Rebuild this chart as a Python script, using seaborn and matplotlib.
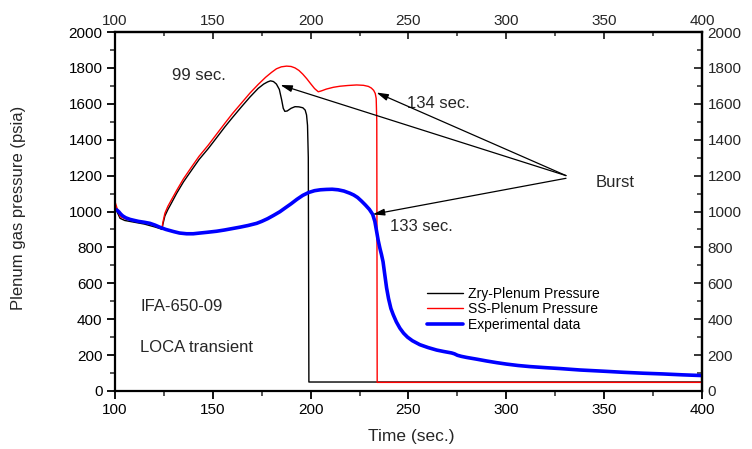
import matplotlib
matplotlib.use("Agg")
import matplotlib.pyplot as plt
import seaborn as sns
import pandas as pd
from matplotlib.ticker import FixedLocator

# ---- data ----
zry_t = [100, 101, 102.6, 105, 110, 115, 120, 123, 124, 124.5, 125.5, 127, 129,
         131.5, 135, 139.2, 143, 147.7, 152, 156.2, 160, 164.7, 169, 173.2, 176,
         178, 179.5, 181, 182.5, 184, 185.2, 186, 186.8, 188, 190, 192, 194, 196,
         197.2, 197.9, 198.4, 198.8, 199.1, 400]
zry_p = [1040, 1000, 962, 950, 940, 930, 915, 905, 900, 930, 975, 1010, 1050,
         1101, 1165, 1231, 1290, 1351, 1412, 1472, 1523, 1584, 1638, 1686, 1710,
         1722, 1728, 1724, 1710, 1680, 1621, 1575, 1558, 1560, 1575, 1584, 1583, 1578,
         1565, 1538, 1480, 1300, 50, 50]

ss_t = [100, 101, 102.6, 105, 110, 115, 120, 123, 124, 124.5, 125.5, 127, 129,
        131.5, 135, 139.2, 143, 147.7, 152, 156.2, 160, 164.7, 169, 173.2, 177,
        180, 182.5, 185, 187.7, 190, 192, 194, 196, 198, 200, 202, 203.9, 205.5,
        208, 211.6, 215, 219, 223.5, 227, 229.5, 231, 232.2, 233, 233.5, 233.8,
        234, 400]
ss_p = [1055, 1020, 972, 960, 950, 940, 925, 912, 905, 940, 990, 1028, 1068,
        1117, 1182, 1249, 1308, 1370, 1432, 1492, 1545, 1605, 1660, 1708, 1748,
        1775, 1795, 1806, 1810, 1808, 1800, 1786, 1765, 1740, 1712, 1685, 1667, 1672,
        1682, 1692, 1698, 1702, 1705, 1703, 1697, 1688, 1675, 1658, 1630, 1500,
        48, 48]

exp_t = [100, 101, 102, 103, 104, 105.5, 107.7, 110, 112, 115, 117.9, 120.5, 123,
         126, 130, 133, 136.6, 140, 143.4, 147, 151.9, 156, 160, 164, 168, 172.4,
         175, 178, 181, 184.3, 187, 190, 193, 196, 199, 202, 205, 208, 211, 214,
         217, 220, 222, 224, 226, 228, 230, 231.7, 232.8, 233.7, 234.5, 235.4,
         236.2, 237, 237.8, 238.8, 239.8, 241, 242.2, 243.8, 245.6, 247.5, 249.5,
         252, 255.8, 260, 264.4, 268, 272, 273.5, 275, 277, 279.7, 285, 290, 295,
         300, 306, 312, 320, 327.4, 337.6, 350, 360, 370, 380, 390, 400]
exp_p = [1010, 1008, 998, 985, 975, 965, 956, 950, 945, 940, 934, 924, 912,
         900, 888, 880, 876, 876, 880, 884, 890, 897, 905, 913, 922, 934,
         945, 960, 978, 999, 1020, 1043, 1068, 1090, 1106, 1116, 1121, 1123, 1124, 1121,
         1114, 1102, 1092, 1078, 1058, 1036, 1012, 984, 945, 890, 840, 795,
         760, 720, 655, 575, 515, 460, 425, 385, 350, 322, 300,
         280, 258, 242, 228, 220, 212, 207, 199, 193, 187, 177, 167, 158,
         150, 142, 136, 130, 125, 117, 110, 104, 99, 95, 90, 86]

series_labels = ["Zry-Plenum Pressure", "SS-Plenum Pressure", "Experimental data"]

x_major = [100, 150, 200, 250, 300, 350, 400]
x_minor = [125, 175, 225, 275, 325, 375]
y_major = [0, 200, 400, 600, 800, 1000, 1200, 1400, 1600, 1800, 2000]
y_minor = [100, 300, 500, 700, 900, 1100, 1300, 1500, 1700, 1900]

# ---- figure ----
sns.set_style("white")
plt.rcParams["font.family"] = ["Liberation Sans", "DejaVu Sans"]

fig = plt.figure(figsize=(7.52, 4.49), dpi=100)
ax = fig.add_axes([0.1529, 0.1292, 0.9335 - 0.1529, 0.9287 - 0.1292])

df_z = pd.DataFrame({"t": zry_t, "p": zry_p})
df_s = pd.DataFrame({"t": ss_t, "p": ss_p})
df_e = pd.DataFrame({"t": exp_t, "p": exp_p})

sns.lineplot(data=df_z, x="t", y="p", ax=ax, color="black", lw=1.0,
             sort=False, estimator=None, label=series_labels[0])
sns.lineplot(data=df_s, x="t", y="p", ax=ax, color="#ff0000", lw=1.0,
             sort=False, estimator=None, label=series_labels[1])
sns.lineplot(data=df_e, x="t", y="p", ax=ax, color="#0000ff", lw=2.6,
             sort=False, estimator=None, label=series_labels[2])

ax.set_xlim(100, 400)
ax.set_ylim(0, 2000)
ax.xaxis.set_major_locator(FixedLocator(x_major))
ax.xaxis.set_minor_locator(FixedLocator(x_minor))
ax.yaxis.set_major_locator(FixedLocator(y_major))
ax.yaxis.set_minor_locator(FixedLocator(y_minor))

for s in ax.spines.values():
    s.set_linewidth(1.6)
    s.set_color("black")

tick_fs = 11
ax.tick_params(which="major", direction="out", length=6, width=1.3,
               labelsize=tick_fs, colors="black", pad=3)
ax.tick_params(which="minor", direction="out", length=3.5, width=1.1)
ax.tick_params(left=True, bottom=True, which="both")

secx = ax.secondary_xaxis("top")
secx.xaxis.set_major_locator(FixedLocator(x_major))
secx.xaxis.set_minor_locator(FixedLocator(x_minor))
secx.tick_params(which="major", direction="in", length=5, width=1.3,
                 labelsize=tick_fs, pad=3)
secx.tick_params(which="minor", direction="in", length=3, width=1.1)
secx.spines["top"].set_linewidth(1.6)

secy = ax.secondary_yaxis("right")
secy.yaxis.set_major_locator(FixedLocator(y_major))
secy.yaxis.set_minor_locator(FixedLocator(y_minor))
secy.tick_params(which="major", direction="in", length=6, width=1.3,
                 labelsize=tick_fs, pad=4)
secy.tick_params(which="minor", direction="in", length=3.5, width=1.1)
secy.spines["right"].set_linewidth(1.6)

ax.set_xlabel("Time (sec.)", fontsize=12.5)
ax.set_ylabel("Plenum gas pressure (psia)", fontsize=12)
ax.xaxis.set_label_coords(0.505, -0.106)
ax.yaxis.set_label_coords(-0.152, 0.51)

# ---- annotations ----
ann_fs = 12
ax.text(129.1, 1760, "99 sec.", fontsize=ann_fs, va="center", ha="left")
ax.text(249.2, 1604, "134 sec.", fontsize=ann_fs, va="center", ha="left")
ax.text(240.5, 919, "133 sec.", fontsize=ann_fs, va="center", ha="left")
ax.text(345.8, 1164, "Burst", fontsize=ann_fs, va="center", ha="left")
ax.text(112.8, 468, "IFA-650-09", fontsize=ann_fs, va="center", ha="left")
ax.text(112.8, 240, "LOCA transient", fontsize=ann_fs, va="center", ha="left")

arrow_kw = dict(arrowstyle="-|>,head_length=0.7,head_width=0.2", lw=0.9,
                color="black", shrinkA=0, shrinkB=0, mutation_scale=10)
ax.annotate("", xy=(184.5, 1705), xytext=(330.5, 1200), arrowprops=arrow_kw)
ax.annotate("", xy=(233.6, 1663), xytext=(330.5, 1200), arrowprops=arrow_kw)
ax.annotate("", xy=(231.7, 984), xytext=(330.5, 1185), arrowprops=arrow_kw)

leg = ax.legend(loc="upper left", bbox_to_anchor=(0.532, 0.291), frameon=False,
                fontsize=10, handlelength=2.6, handletextpad=0.35,
                labelspacing=0.12, borderpad=0, borderaxespad=0)
for t in leg.get_texts():
    t.set_color("black")

fig.savefig("out.png", dpi=100)
